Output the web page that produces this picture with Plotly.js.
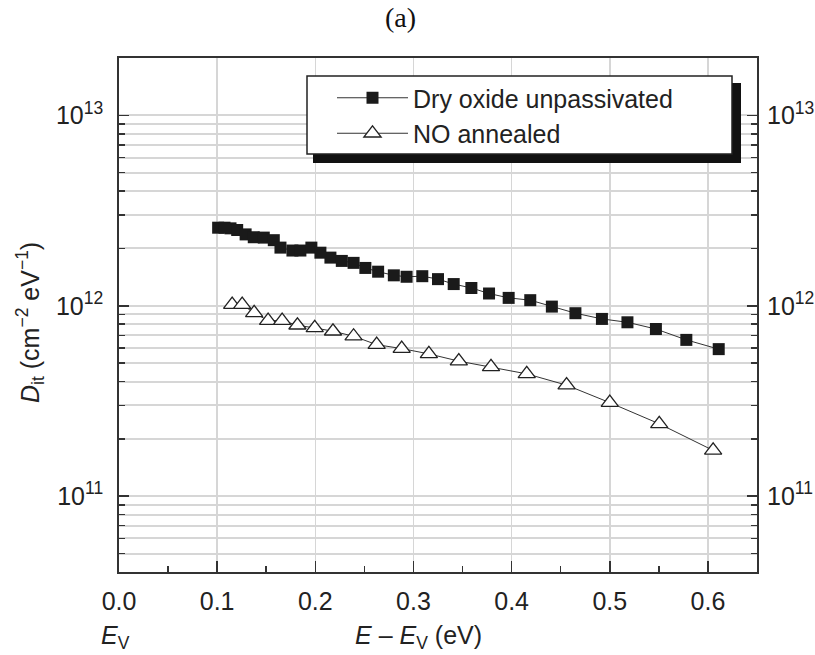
<!DOCTYPE html>
<html>
<head>
<meta charset="utf-8">
<script src="https://cdn.plot.ly/plotly-3.0.1.min.js"></script>
<style>html,body{margin:0;padding:0;background:#fff;}#chart{width:815px;height:655px;}</style>
</head>
<body>
<div id="chart"></div>
<script>
// Data
var dryName = "Dry oxide unpassivated";
var dryX = [0.101, 0.1075, 0.1136, 0.1204, 0.129, 0.1373, 0.1475, 0.1577, 0.1645, 0.1767, 0.1848, 0.196, 0.2052, 0.2154, 0.227, 0.239, 0.251, 0.264, 0.280, 0.293, 0.309, 0.325, 0.341, 0.359, 0.377, 0.397, 0.419, 0.441, 0.465, 0.492, 0.518, 0.547, 0.578, 0.611];
var dryY = [2.57e12, 2.57e12, 2.55e12, 2.50e12, 2.37e12, 2.29e12, 2.28e12, 2.21e12, 2.02e12, 1.95e12, 1.95e12, 2.02e12, 1.90e12, 1.79e12, 1.72e12, 1.68e12, 1.58e12, 1.51e12, 1.445e12, 1.42e12, 1.43e12, 1.38e12, 1.30e12, 1.24e12, 1.16e12, 1.10e12, 1.07e12, 9.9e11, 9.14e11, 8.53e11, 8.19e11, 7.55e11, 6.62e11, 5.92e11];

var noName = "NO annealed";
var noX = [0.1153, 0.1255, 0.1377, 0.1519, 0.1662, 0.1818, 0.1994, 0.218, 0.239, 0.2625, 0.288, 0.3157, 0.3462, 0.379, 0.4154, 0.456, 0.500, 0.5504, 0.6053];
var noY = [1.014e12, 1.014e12, 9.17e11, 8.36e11, 8.36e11, 7.90e11, 7.65e11, 7.35e11, 6.92e11, 6.25e11, 5.96e11, 5.59e11, 5.12e11, 4.78e11, 4.39e11, 3.83e11, 3.10e11, 2.40e11, 1.74e11];

var xTickVals = [0, 0.1, 0.2, 0.3, 0.4, 0.5, 0.6];
var xTickText = ["0.0", "0.1", "0.2", "0.3", "0.4", "0.5", "0.6"];
var yTickVals = [1e11, 1e12, 1e13];
var yTickText = ["10<sup>11</sup>", "10<sup>12</sup>", "10<sup>13</sup>"];

var FONT = "Liberation Sans, Arial, Helvetica, sans-serif";
var INK = "#222";
var GRID = "#d6d6d6";

var traces = [
  {
    x: dryX, y: dryY, name: dryName, type: "scatter", mode: "lines+markers",
    line: {color: "#333", width: 1},
    marker: {symbol: "square", size: 12, color: "#1a1a1a", line: {width: 0}},
    hoverinfo: "x+y"
  },
  {
    x: noX, y: noY, name: noName, type: "scatter", mode: "lines+markers",
    line: {color: "#333", width: 1},
    marker: {symbol: "triangle-up", size: 15, color: "#fff", line: {color: "#222", width: 1.3}},
    hoverinfo: "x+y"
  },
  {
    // carries the right-hand axis
    x: noX, y: noY, yaxis: "y2", type: "scatter", mode: "markers",
    marker: {opacity: 0}, showlegend: false, hoverinfo: "skip"
  }
];

var yRange = [Math.log10(4e10), Math.log10(2e13)];

function px2paperX(p){ return (p - 119) / 638; }
function px2paperY(p){ return (572 - p) / 514; }

var layout = {
  width: 815, height: 655,
  margin: {l: 119, r: 58, t: 58, b: 83, pad: 0},
  paper_bgcolor: "#fff", plot_bgcolor: "#fff",
  font: {family: FONT, size: 25, color: INK},
  showlegend: true,
  legend: {
    x: px2paperX(332), xanchor: "left",
    y: px2paperY(75), yanchor: "top",
    bgcolor: "rgba(0,0,0,0)", borderwidth: 0,
    font: {family: FONT, size: 25, color: INK},
    itemwidth: 71, tracegroupgap: 0
  },
  xaxis: {
    range: [0, 0.65], tickmode: "array", tickvals: xTickVals, ticktext: xTickText,
    ticks: "inside", ticklen: 11, tickwidth: 1.5, tickcolor: "#333",
    showline: true, linecolor: "#333", linewidth: 1.8, mirror: true,
    showgrid: true, gridcolor: GRID, gridwidth: 1.5, zeroline: false,
    tickfont: {family: FONT, size: 25, color: INK}, ticklabelstandoff: 6,
    minor: {tickmode: "linear", tick0: 0, dtick: 0.05, ticks: "inside", ticklen: 6, tickwidth: 1.5, tickcolor: "#333", showgrid: false}
  },
  yaxis: {
    type: "log", range: yRange, tickmode: "array", tickvals: yTickVals, ticktext: yTickText,
    ticks: "inside", ticklen: 10, tickwidth: 1.5, tickcolor: "#333",
    showline: true, linecolor: "#333", linewidth: 1.8, mirror: true,
    showgrid: true, gridcolor: GRID, gridwidth: 2, zeroline: false,
    tickfont: {family: FONT, size: 25, color: INK}, ticklabelstandoff: 9,
    minor: {dtick: "D1", ticks: "inside", ticklen: 6, tickwidth: 1.5, tickcolor: "#333", showgrid: true, gridcolor: GRID, gridwidth: 2}
  },
  yaxis2: {
    type: "log", range: yRange, overlaying: "y", side: "right", anchor: "x",
    tickmode: "array", tickvals: yTickVals, ticktext: yTickText,
    ticks: "inside", ticklen: 10, tickwidth: 1.5, tickcolor: "#333",
    showline: false, showgrid: false, zeroline: false,
    tickfont: {family: FONT, size: 25, color: INK}, ticklabelstandoff: 9,
    minor: {dtick: "D1", ticks: "inside", ticklen: 6, tickwidth: 1.5, tickcolor: "#333", showgrid: false}
  },
  shapes: [
    // legend shadow
    {type: "rect", xref: "paper", yref: "paper", layer: "above",
     x0: px2paperX(313), x1: px2paperX(741), y0: px2paperY(163), y1: px2paperY(83),
     fillcolor: "#111", line: {width: 0}},
    // legend box
    {type: "rect", xref: "paper", yref: "paper", layer: "above",
     x0: px2paperX(307), x1: px2paperX(732), y0: px2paperY(154), y1: px2paperY(76),
     fillcolor: "#fff", line: {color: "#222", width: 1.5}}
  ],
  annotations: [
    {text: "(a)", xref: "paper", yref: "paper", x: px2paperX(400), y: px2paperY(17),
     xanchor: "center", yanchor: "middle", showarrow: false,
     font: {family: "Liberation Serif, Times New Roman, serif", size: 28, color: "#111"}},
    {text: "<i>D</i><sub>it</sub> (cm<sup>−2</sup> eV<sup>−1</sup>)", xref: "paper", yref: "paper",
     x: px2paperX(30), y: px2paperY(323), xanchor: "center", yanchor: "middle",
     textangle: -90, showarrow: false, font: {family: FONT, size: 25, color: INK}},
    {text: "<i>E</i> – <i>E</i><sub>V</sub> (eV)", xref: "paper", yref: "paper",
     x: px2paperX(418), y: px2paperY(637), xanchor: "center", yanchor: "middle",
     showarrow: false, font: {family: FONT, size: 25, color: INK}},
    {text: "<i>E</i><sub>V</sub>", xref: "paper", yref: "paper",
     x: px2paperX(115), y: px2paperY(637), xanchor: "center", yanchor: "middle",
     showarrow: false, font: {family: FONT, size: 25, color: INK}}
  ]
};

Plotly.newPlot("chart", traces, layout, {displayModeBar: false, staticPlot: true});
</script>
</body>
</html>
